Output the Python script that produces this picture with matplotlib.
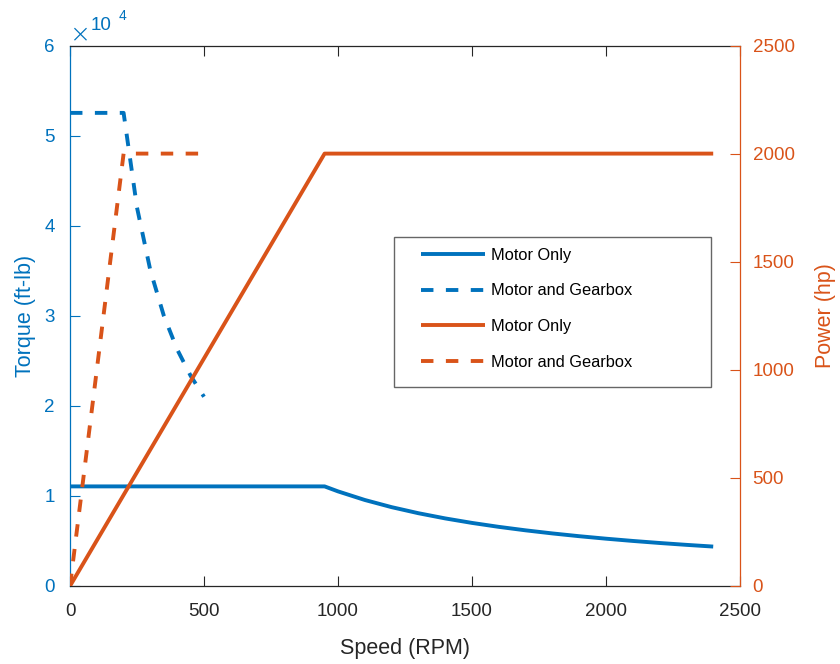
import numpy as np
import matplotlib
matplotlib.use("Agg")
import matplotlib.pyplot as plt
from matplotlib.patches import Rectangle

plt.rcParams['font.family'] = ['Liberation Sans', 'DejaVu Sans']

BLUE = '#0072BD'
ORANGE = '#D95319'
DARK = '#262626'

# motor only
motor_rpm = [0, 950, 1000, 1100, 1200, 1300, 1400, 1500, 1600, 1700, 1800,
             1900, 2000, 2100, 2200, 2300, 2400]
motor_torque = [11057, 11057, 10504, 9549, 8753, 8080, 7503, 7003, 6565, 6179,
                5836, 5528, 5252, 5002, 4775, 4567, 4377]
motor_pow_rpm = [0, 950, 2400]
motor_power = [0, 2000, 2000]

# motor and gearbox
gear_rpm = [0, 200, 250, 300, 350, 400, 450, 500]
gear_torque = [52520, 52520, 42016, 35013, 30011, 26260, 23342, 21008]
gear_pow_rpm = [0, 200, 510]
gear_power = [0, 2000, 2000]

xticks = [0, 500, 1000, 1500, 2000, 2500]
torque_ticks = [0, 10000, 20000, 30000, 40000, 50000, 60000]
torque_labels = ['0', '1', '2', '3', '4', '5', '6']
power_ticks = [0, 500, 1000, 1500, 2000, 2500]

W, H = 840, 664
fig = plt.figure(figsize=(W / 100, H / 100), dpi=100)
ax = fig.add_axes([70 / W, 1 - 586 / H, 670 / W, 540.5 / H])
ax2 = ax.twinx()

lw = 2.8
dash = (3.2, 3.2)

l1, = ax.plot(motor_rpm, motor_torque, color=BLUE, lw=lw, solid_capstyle='butt')
l2, = ax.plot(gear_rpm, gear_torque, color=BLUE, lw=lw, ls=(0, dash),
              dash_capstyle='butt')
l3, = ax2.plot(motor_pow_rpm, motor_power, color=ORANGE, lw=lw, solid_capstyle='butt')
l4, = ax2.plot(gear_pow_rpm, gear_power, color=ORANGE, lw=lw, ls=(0, dash),
               dash_capstyle='butt')

ax.set_xlim(0, 2500)
ax.set_ylim(0, 60000)
ax2.set_ylim(0, 2500)
ax.set_xticks(xticks)
ax.set_xticklabels([str(v) for v in xticks])
ax.set_yticks(torque_ticks)
ax.set_yticklabels(torque_labels)
ax2.set_yticks(power_ticks)
ax2.set_yticklabels([str(v) for v in power_ticks])

tick_fs = 13.5
label_fs = 15.5

ax.tick_params(axis='x', direction='in', top=True, length=7, width=0.8,
               colors=DARK, labelsize=tick_fs, pad=12)
ax.tick_params(axis='y', direction='in', length=7, width=0.8,
               colors=BLUE, labelsize=tick_fs, pad=11)
ax2.tick_params(axis='y', direction='in', length=7, width=0.8,
                colors=ORANGE, labelsize=tick_fs, pad=9)

for s in ['top', 'bottom']:
    ax.spines[s].set_color(DARK)
    ax.spines[s].set_linewidth(0.9)
ax.spines['left'].set_color(BLUE)
ax.spines['right'].set_visible(False)
for s in ['top', 'bottom', 'left']:
    ax2.spines[s].set_visible(False)
ax2.spines['right'].set_color(ORANGE)
ax.spines['left'].set_linewidth(0.9)
ax2.spines['right'].set_linewidth(0.9)

ax.set_xlabel('Speed (RPM)', fontsize=label_fs, color=DARK, labelpad=13)
ax.set_ylabel('Torque (ft-lb)', fontsize=label_fs, color=BLUE, labelpad=6)
ax2.set_ylabel('Power (hp)', fontsize=label_fs, color=ORANGE, labelpad=15)

# exponent label, MATLAB style
fig.text(80.5 / W, 1 - 34 / H, '\u00d7', fontsize=18, color=BLUE, ha='center', va='center',
         family='DejaVu Sans', fontweight='light')
fig.text(91 / W, 1 - 30 / H, '10', fontsize=tick_fs, color=BLUE, ha='left', va='baseline')
fig.text(119 / W, 1 - 20 / H, '4', fontsize=10, color=BLUE, ha='left', va='baseline')

# legend: box drawn separately to match its wide frame
fig.patches.append(Rectangle((394 / W, 1 - 387 / H), 317 / W, 150 / H,
                             transform=fig.transFigure, facecolor='white',
                             edgecolor='#666666', lw=1.0, zorder=5))
leg = fig.legend([l1, l2, l3, l4],
                 ['Motor Only', 'Motor and Gearbox', 'Motor Only', 'Motor and Gearbox'],
                 loc='upper left', bbox_to_anchor=(421 / W, 1 - 247.5 / H),
                 frameon=False, fontsize=11.8, handlelength=3.9,
                 handletextpad=0.4, labelspacing=1.27, borderpad=0,
                 borderaxespad=0)
leg.set_zorder(6)

fig.savefig('out.png', dpi=100)
